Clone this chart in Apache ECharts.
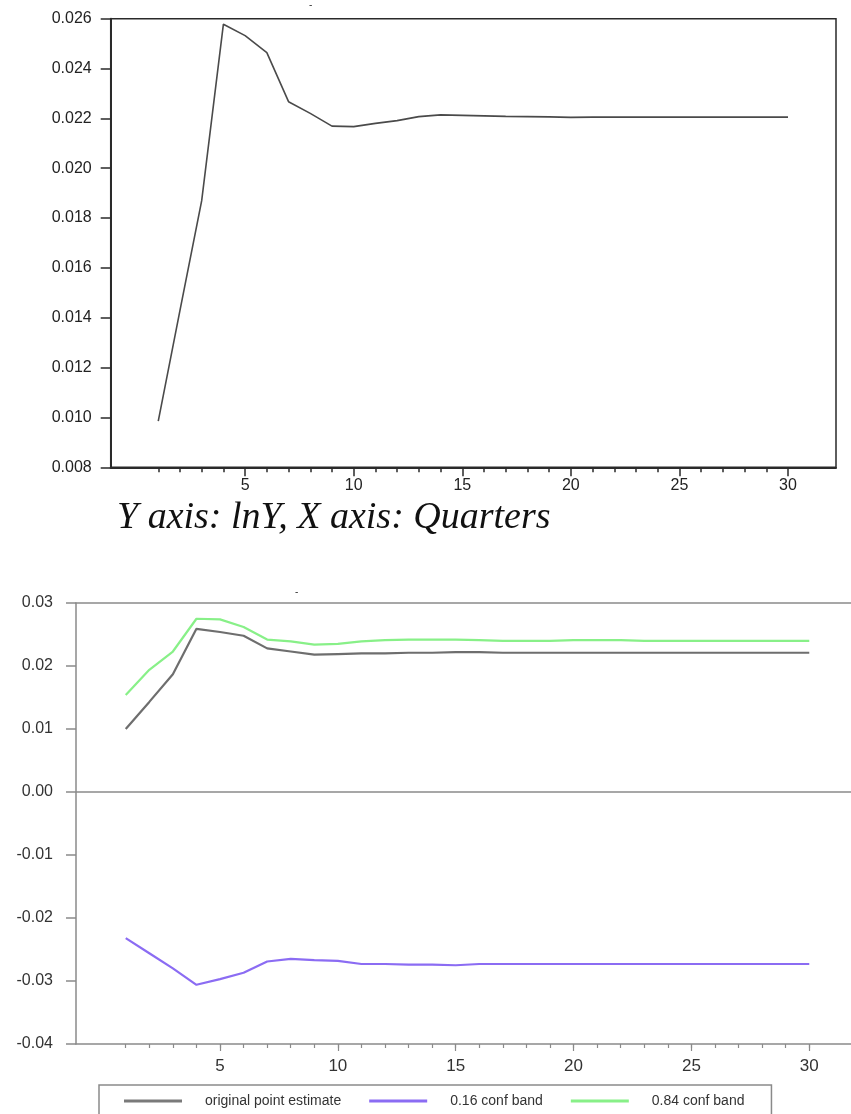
<!DOCTYPE html>
<html>
<head>
<meta charset="utf-8">
<script src="https://cdn.jsdelivr.net/npm/echarts@6/dist/echarts.min.js"></script>
<style>
html,body{margin:0;padding:0;background:#fff;}
#chart{width:851px;height:1114px;}
</style>
</head>
<body>
<div id="chart"></div>
<script>
// ---- data ----
const quarters = [1,2,3,4,5,6,7,8,9,10,11,12,13,14,15,16,17,18,19,20,21,22,23,24,25,26,27,28,29,30];
const xTickValues = quarters;
const xLabelValues = [5,10,15,20,25,30];

// top panel: response of lnY
const lnYResponse = [0.00985,0.0143,0.0187,0.02578,0.02532,0.02464,0.02267,0.02220,0.02169,0.02167,
  0.02180,0.02191,0.02207,0.02214,0.02212,0.02210,0.02208,0.02207,0.02206,0.02204,
  0.02205,0.02205,0.02205,0.02205,0.02205,0.02205,0.02205,0.02205,0.02205,0.02205];

// bottom panel
const pointEstimate = [0.0100,0.0143,0.0187,0.0259,0.0254,0.0248,0.0228,0.0223,0.0218,0.0219,
  0.0220,0.0220,0.0221,0.0221,0.0222,0.0222,0.0221,0.0221,0.0221,0.0221,
  0.0221,0.0221,0.0221,0.0221,0.0221,0.0221,0.0221,0.0221,0.0221,0.0221];
const lowerBand = [-0.0232,-0.0256,-0.0280,-0.0306,-0.0297,-0.0287,-0.0269,-0.0265,-0.0267,-0.0268,
  -0.0273,-0.0273,-0.0274,-0.0274,-0.0275,-0.0273,-0.0273,-0.0273,-0.0273,-0.0273,
  -0.0273,-0.0273,-0.0273,-0.0273,-0.0273,-0.0273,-0.0273,-0.0273,-0.0273,-0.0273];
const upperBand = [0.0154,0.0194,0.0223,0.0275,0.0274,0.0262,0.0242,0.0239,0.0234,0.0235,
  0.0239,0.0241,0.0242,0.0242,0.0242,0.0241,0.0240,0.0240,0.0240,0.0241,
  0.0241,0.0241,0.0240,0.0240,0.0240,0.0240,0.0240,0.0240,0.0240,0.0240];

const seriesNames = ['original point estimate','0.16 conf band','0.84 conf band'];
const caption = 'Y axis: lnY, X axis: Quarters';

const pair = (ys) => quarters.map((q,i)=>[q, ys[i]]);

const SANS = "'Liberation Sans', Arial, sans-serif";
const chart = echarts.init(document.getElementById('chart'), null, {renderer:'canvas'});

const fmt = (d) => (v) => Math.abs(v) < 1e-9 ? (0).toFixed(d) : v.toFixed(d);

chart.setOption({
  animation: false,
  backgroundColor: '#fff',
  title: [
    {text: caption, left: 117, top: 499, padding: 0,
     textStyle: {fontFamily: "'Liberation Serif', 'Times New Roman', serif", fontStyle: 'italic', fontWeight: 'normal', fontSize: 38, color: '#111'}},
    {text: '-', left: 309, top: 0, padding: 0, textStyle: {fontSize: 10, color: '#333', fontWeight: 'normal'}},
    {text: '-', left: 295, top: 587, padding: 0, textStyle: {fontSize: 10, color: '#333', fontWeight: 'normal'}}
  ],
  grid: [
    {left: 110.7, top: 18.7, width: 725.3, height: 448.6, show: true, borderColor: '#2a2a2a', borderWidth: 1.5},
    {left: 76, top: 603, width: 775, height: 441, show: false}
  ],
  xAxis: [
    {gridIndex: 0, type: 'value', min: -1.19, max: 32.21,
     axisLine: {show: true, onZero: false, lineStyle: {color: '#2a2a2a', width: 2}},
     axisTick: {show: true, customValues: xTickValues, length: 5, lineStyle: {color: '#2a2a2a', width: 1.5}},
     axisLabel: {show: true, customValues: xLabelValues, margin: 10, fontFamily: SANS, fontSize: 16, color: '#222'},
     splitLine: {show: false}},
    {gridIndex: 0, type: 'value', min: -1.19, max: 32.21, position: 'bottom',
     axisLine: {show: false, onZero: false},
     axisTick: {show: true, customValues: xLabelValues, length: 9, lineStyle: {color: '#2a2a2a', width: 1.5}},
     axisLabel: {show: false}, splitLine: {show: false}},
    {gridIndex: 1, type: 'value', min: -1.11, max: 31.77,
     axisLine: {show: true, onZero: false, lineStyle: {color: '#8a8a8a', width: 1.5}},
     axisTick: {show: true, customValues: xTickValues, length: 4, lineStyle: {color: '#8a8a8a', width: 1.2}},
     axisLabel: {show: true, customValues: xLabelValues, margin: 14, fontFamily: SANS, fontSize: 17, color: '#333'},
     splitLine: {show: false}},
    {gridIndex: 1, type: 'value', min: -1.11, max: 31.77, position: 'bottom',
     axisLine: {show: false, onZero: false},
     axisTick: {show: true, customValues: xLabelValues, length: 7, lineStyle: {color: '#8a8a8a', width: 1.2}},
     axisLabel: {show: false}, splitLine: {show: false}},
    {gridIndex: 1, type: 'value', min: -1.11, max: 31.77, position: 'top',
     axisLine: {show: true, onZero: false, lineStyle: {color: '#8a8a8a', width: 1.5}},
     axisTick: {show: false}, axisLabel: {show: false}, splitLine: {show: false}}
  ],
  yAxis: [
    {gridIndex: 0, type: 'value', min: 0.008, max: 0.026, interval: 0.002,
     axisLine: {show: true, onZero: false, lineStyle: {color: '#2a2a2a', width: 2}},
     axisTick: {show: true, length: 10, lineStyle: {color: '#2a2a2a', width: 1.5}},
     axisLabel: {margin: 19, fontFamily: SANS, fontSize: 16, color: '#222', formatter: fmt(3)},
     splitLine: {show: false}},
    {gridIndex: 1, type: 'value', min: -0.04, max: 0.03, interval: 0.01,
     axisLine: {show: true, onZero: false, lineStyle: {color: '#8a8a8a', width: 1.5}},
     axisTick: {show: true, length: 10, lineStyle: {color: '#8a8a8a', width: 1.5}},
     axisLabel: {margin: 23, fontFamily: SANS, fontSize: 16, color: '#333', formatter: fmt(2)},
     splitLine: {show: false}}
  ],
  legend: {
    data: seriesNames,
    left: 99, top: 1085,
    orient: 'horizontal',
    icon: 'rect', itemWidth: 58, itemHeight: 3, itemGap: 28,
    padding: [9, 27, 30, 25],
    borderColor: '#8a8a8a', borderWidth: 1.5,
    textStyle: {fontFamily: SANS, fontSize: 14, color: '#333', padding: [0, 0, 0, 18]}
  },
  series: [
    {name: 'lnY', type: 'line', xAxisIndex: 0, yAxisIndex: 0, data: pair(lnYResponse),
     showSymbol: false, symbol: 'none', lineStyle: {color: '#4a4a4a', width: 1.6}, itemStyle: {color: '#4a4a4a'}, silent: true},
    {name: seriesNames[0], type: 'line', xAxisIndex: 2, yAxisIndex: 1, data: pair(pointEstimate),
     showSymbol: false, symbol: 'none', lineStyle: {color: '#6e6e6e', width: 2.2}, itemStyle: {color: '#7a7a7a'},
     markLine: {silent: true, symbol: 'none', label: {show: false},
       lineStyle: {color: '#8a8a8a', width: 1.5, type: 'solid'}, data: [{yAxis: 0}]}},
    {name: seriesNames[1], type: 'line', xAxisIndex: 2, yAxisIndex: 1, data: pair(lowerBand),
     showSymbol: false, symbol: 'none', lineStyle: {color: '#8b6cf3', width: 2.2}, itemStyle: {color: '#8b6cf3'}},
    {name: seriesNames[2], type: 'line', xAxisIndex: 2, yAxisIndex: 1, data: pair(upperBand),
     showSymbol: false, symbol: 'none', lineStyle: {color: '#88f088', width: 2.2}, itemStyle: {color: '#88f088'}}
  ]
});
</script>
</body>
</html>
